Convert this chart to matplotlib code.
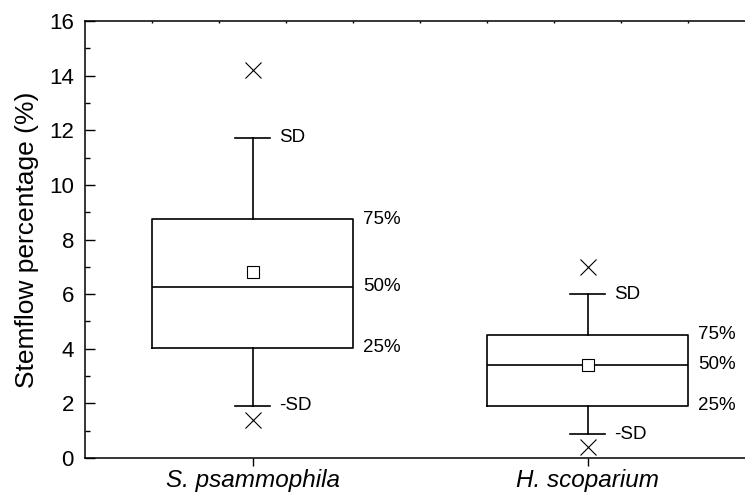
import numpy as np
import matplotlib.pyplot as plt
from matplotlib.ticker import MultipleLocator, FixedLocator

plt.rcParams['font.family'] = ['Liberation Sans', 'DejaVu Sans']

species = ['S. psammophila', 'H. scoparium']
q25 = [4.03, 1.92]
q50 = [6.27, 3.42]
q75 = [8.75, 4.52]
mean = [6.82, 3.42]
sd_hi = [11.72, 6.00]
sd_lo = [1.92, 0.87]
x_hi = [14.21, 7.00]
x_lo = [1.39, 0.41]

stats = []
for i in range(len(species)):
    stats.append(dict(label=species[i], q1=q25[i], med=q50[i], q3=q75[i],
                      mean=mean[i], whislo=sd_lo[i], whishi=sd_hi[i],
                      fliers=[x_lo[i], x_hi[i]]))

fig = plt.figure(figsize=(7.45, 4.99), dpi=100)
ax = fig.add_axes([85/745, 41/499, 660/745, 437/499])

lw = 1.2
ax.bxp(stats, positions=[1, 2], widths=0.6, capwidths=0.105, showmeans=True,
       boxprops=dict(color='black', linewidth=lw),
       medianprops=dict(color='black', linewidth=lw),
       whiskerprops=dict(color='black', linewidth=lw),
       capprops=dict(color='black', linewidth=lw),
       meanprops=dict(marker='s', markerfacecolor='white', markeredgecolor='black',
                      markersize=9, markeredgewidth=0.8),
       flierprops=dict(marker='x', markeredgecolor='black', markersize=11,
                       markeredgewidth=0.8))

fs = 13.5
for i in range(len(species)):
    x = i + 1
    ax.text(x + 0.08, sd_hi[i], 'SD', fontsize=fs, va='center', ha='left')
    ax.text(x + 0.08, sd_lo[i], '-SD', fontsize=fs, va='center', ha='left')
    ax.text(x + 0.33, q75[i], '75%', fontsize=fs, va='center', ha='left')
    ax.text(x + 0.33, q50[i], '50%', fontsize=fs, va='center', ha='left')
    ax.text(x + 0.33, q25[i], '25%', fontsize=fs, va='center', ha='left')

ax.set_xlim(0.5, 2.47)
ax.set_ylim(0, 16)
ax.set_xticks([1, 2])
ax.set_xticklabels(species, fontsize=17.5, style='italic')
ax.yaxis.set_major_locator(MultipleLocator(2))
ax.yaxis.set_minor_locator(MultipleLocator(1))
ax.tick_params(axis='y', which='major', direction='in', length=7, width=1, labelsize=16, pad=8)
ax.tick_params(axis='y', which='minor', direction='in', length=3.5, width=1)
ax.tick_params(axis='x', which='major', direction='out', length=6, width=1, pad=2)
ax.xaxis.set_minor_locator(FixedLocator(np.arange(0.7, 2.5, 0.2)))
ax.tick_params(axis='x', which='minor', bottom=False, top=True, direction='in', length=1.5, width=1)
ax.set_ylabel('Stemflow percentage (%)', fontsize=19, labelpad=7)

for s in ['left', 'bottom', 'top']:
    ax.spines[s].set_linewidth(1.1)
ax.spines['right'].set_visible(False)

fig.savefig('out.png', dpi=100)
